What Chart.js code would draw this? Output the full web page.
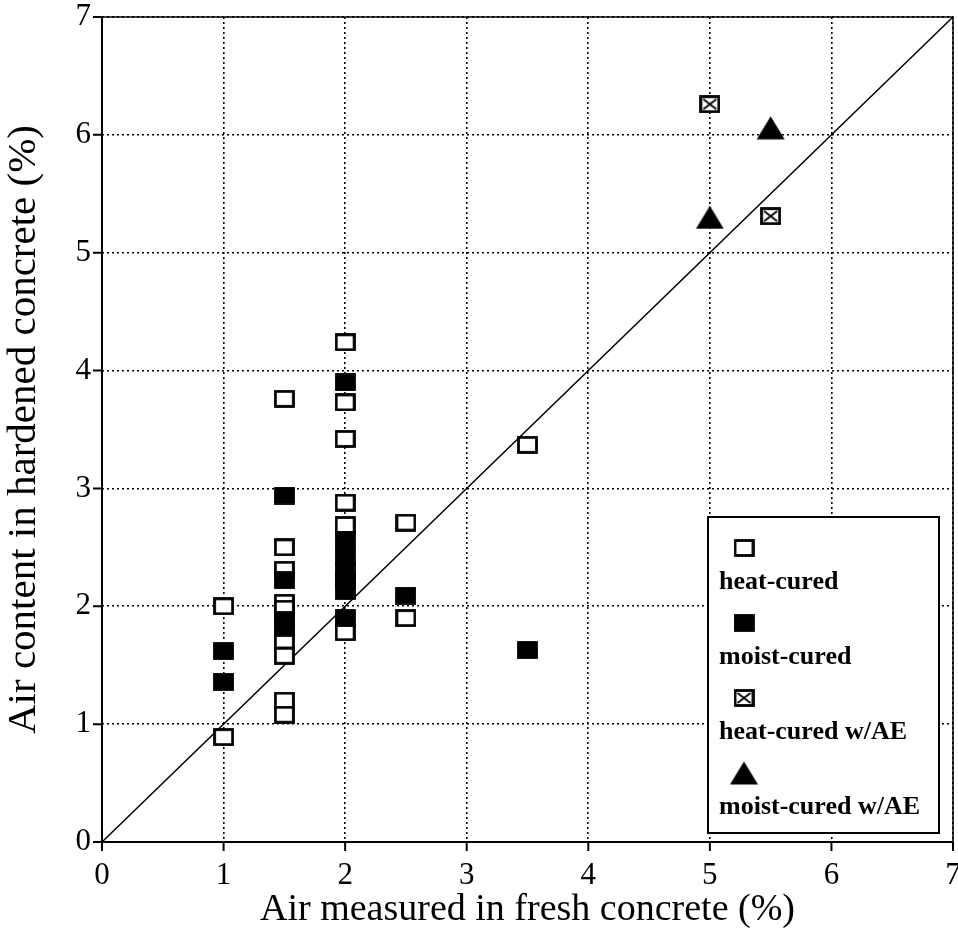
<!DOCTYPE html>
<html>
<head>
<meta charset="utf-8">
<script src="https://cdn.jsdelivr.net/npm/chart.js@4"></script>
<style>
  html, body { margin: 0; padding: 0; background: #fff; }
  #wrap { width: 958px; height: 939px; }
</style>
</head>
<body>
<div id="wrap"><canvas id="chart"></canvas></div>
<script>
// values
let ticks = [0, 1, 2, 3, 4, 5, 6, 7]

let heatX = [1, 1, 1.5, 1.5, 1.5, 1.5, 1.5, 1.5, 1.5, 1.5, 1.5, 2, 2, 2, 2, 2, 2, 2.5, 2.5, 3.5]
let heatY = [2.0, 0.89, 3.76, 2.5, 2.31, 2.03, 1.98, 1.71, 1.58, 1.2, 1.08, 4.24, 3.73, 3.42, 2.88, 2.69, 1.78, 2.71, 1.9, 3.37]

let moistX = [1, 1, 1.5, 1.5, 1.5, 1.5, 2, 2, 2, 2, 2, 2, 2, 2.5, 3.5]
let moistY = [1.62, 1.36, 2.94, 2.22, 1.88, 1.82, 3.9, 2.56, 2.42, 2.3, 2.22, 2.13, 1.9, 2.09, 1.63]

let heatAeX = [5, 5.5]
let heatAeY = [6.26, 5.31]

let moistAeX = [5, 5.5]
let moistAeY = [5.3, 6.06]

let equalX = [0, 7]
let equalY = [0, 7]

let labels = ["heat-cured", "moist-cured", "heat-cured w/AE", "moist-cured w/AE"]

const pts = (xs, ys) => xs.map((x, i) => ({x: x, y: ys[i]}))

// marker images
function boxMarker(filled, crossed) {
  let c = document.createElement('canvas')
  c.width = 21; c.height = 18
  let g = c.getContext('2d')
  g.fillStyle = filled ? '#000' : '#fff'
  g.fillRect(1, 1, 19, 16)
  g.strokeStyle = '#000'
  g.lineWidth = 2.8
  g.strokeRect(1.5, 1.5, 18, 15)
  if (crossed) {
    g.lineWidth = 1.8
    g.beginPath()
    g.moveTo(4, 4); g.lineTo(17, 14)
    g.moveTo(17, 4); g.lineTo(4, 14)
    g.stroke()
  }
  return c
}

function triMarker() {
  let c = document.createElement('canvas')
  c.width = 29; c.height = 24
  let g = c.getContext('2d')
  g.fillStyle = '#000'
  g.beginPath()
  g.moveTo(14.5, 0.5); g.lineTo(28.5, 23.5); g.lineTo(0.5, 23.5)
  g.closePath()
  g.fill()
  return c
}

let openBox = boxMarker(false, false)
let fullBox = boxMarker(true, false)
let crossBox = boxMarker(false, true)
let triangle = triMarker()
let icons = [openBox, fullBox, crossBox, triangle]

// solid frame + outward tick marks
let framePlugin = {
  id: 'frame',
  afterDatasetsDraw(chart) {
    let {ctx, chartArea: a, scales} = chart
    ctx.save()
    ctx.strokeStyle = '#000'
    ctx.lineWidth = 1.5
    ctx.strokeRect(a.left, a.top, a.right - a.left, a.bottom - a.top)
    ctx.lineWidth = 2
    ctx.beginPath()
    ctx.moveTo(a.left, a.top); ctx.lineTo(a.left, a.bottom); ctx.lineTo(a.right, a.bottom)
    ticks.forEach(t => {
      let px = scales.x.getPixelForValue(t)
      ctx.moveTo(px, a.bottom); ctx.lineTo(px, a.bottom + 9)
      let py = scales.y.getPixelForValue(t)
      ctx.moveTo(a.left - 9, py); ctx.lineTo(a.left, py)
    })
    ctx.stroke()
    ctx.restore()
  }
}

// boxed legend, icon above each label
let legendPlugin = {
  id: 'boxLegend',
  afterDraw(chart) {
    let {ctx, chartArea: a} = chart
    let right = a.right - 14, bottom = a.bottom - 9
    let left = right - 231, top = bottom - 316
    ctx.save()
    ctx.fillStyle = '#fff'
    ctx.fillRect(left, top, right - left, bottom - top)
    ctx.strokeStyle = '#000'
    ctx.lineWidth = 2
    ctx.strokeRect(left, top, right - left, bottom - top)
    ctx.fillStyle = '#000'
    ctx.font = 'bold 26px "Liberation Serif"'
    ctx.textBaseline = 'alphabetic'
    ctx.textAlign = 'left'
    labels.forEach((txt, i) => {
      let ic = icons[i]
      let cy = top + 31 + i * 75
      ctx.drawImage(ic, left + 36 - ic.width / 2, cy - ic.height / 2)
      ctx.fillText(txt, left + 11, top + 72 + i * 75)
    })
    ctx.restore()
  }
}

let serif = '"Liberation Serif", "Times New Roman", serif'

let axis = (title, pad, size) => ({
  type: 'linear',
  min: 0,
  max: 7,
  afterBuildTicks: s => { s.ticks = ticks.map(v => ({value: v})) },
  grid: {color: '#000', lineWidth: 1.6, drawTicks: false},
  border: {display: false, dash: [2, 3]},
  ticks: {color: '#000', font: {family: serif, size: 31}, padding: pad},
  title: {display: true, text: title, color: '#000', font: {family: serif, size: size}}
})

let xAxis = axis('Air measured in fresh concrete (%)', 15, 38)
xAxis.title.padding = {top: 0, bottom: 6}
xAxis.afterFit = s => { s.height = 97; s.paddingLeft = 0; s.paddingRight = 0 }

let yAxis = axis('Air content in hardened concrete (%)', 11, 41)
yAxis.title.padding = {top: 0, bottom: 0}
yAxis.afterFit = s => { s.width = 102; s.paddingTop = 0; s.paddingBottom = 0 }

let ctx = document.getElementById('chart')
let chart = new Chart(ctx, {
  type: 'scatter',
  data: {
    datasets: [
      {label: labels[1], data: pts(moistX, moistY), pointStyle: fullBox, order: 1},
      {label: labels[0], data: pts(heatX, heatY), pointStyle: openBox, order: 2},
      {label: labels[2], data: pts(heatAeX, heatAeY), pointStyle: crossBox, order: 1},
      {label: labels[3], data: pts(moistAeX, moistAeY), pointStyle: triangle, order: 1},
      {
        label: 'equality',
        type: 'line',
        data: pts(equalX, equalY),
        borderColor: '#000',
        borderWidth: 1.5,
        pointRadius: 0,
        order: 3
      }
    ]
  },
  options: {
    responsive: true,
    maintainAspectRatio: false,
    animation: false,
    events: [],
    layout: {padding: {top: 17, right: 5, left: 0, bottom: 0}},
    plugins: {legend: {display: false}, tooltip: {enabled: false}},
    scales: {x: xAxis, y: yAxis}
  },
  plugins: [framePlugin, legendPlugin]
})
</script>
</body>
</html>
